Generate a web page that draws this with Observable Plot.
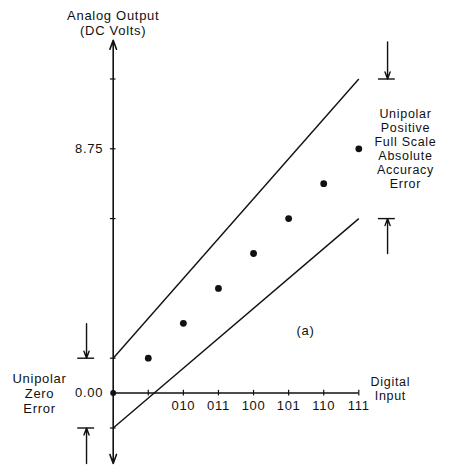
<!DOCTYPE html>
<html>
<head>
<meta charset="utf-8">
<script src="https://cdn.jsdelivr.net/npm/d3@7"></script>
<script src="https://cdn.jsdelivr.net/npm/@observablehq/plot@0.6"></script>
<style>
  html, body { margin: 0; padding: 0; background: #fff; }
  svg text { letter-spacing: 0.7px; }
</style>
</head>
<body>
<div id="chart"></div>
<script>
// Digital input codes (0..7) and ideal unipolar outputs (DC volts)
const codes = [1, 2, 3, 4, 5, 6, 7];
const outputs = [1.25, 2.5, 3.75, 5.0, 6.25, 7.5, 8.75];
const tickCodes = [2, 3, 4, 5, 6, 7];
const tickLabels = ["010", "011", "100", "101", "110", "111"];
// Error envelope lines (code, volts)
const upperCodes = [0, 7];
const upperVolts = [1.25, 11.25];
const lowerCodes = [0, 7];
const lowerVolts = [-1.25, 6.25];
// marked levels on the output axis
const yTickValues = [-1.25, 1.25, 6.25, 8.75, 11.25];
const yLabelValues = [0, 8.75];
const yLabelTexts = ["0.00", "8.75"];

const points = codes.map((c, i) => ({code: c, v: outputs[i]}));
const xLabels = tickCodes.map((c, i) => ({code: c, label: tickLabels[i]}));
const yLabels = yLabelValues.map((v, i) => ({v, label: yLabelTexts[i]}));
const bounds = [
  {x1: upperCodes[0], y1: upperVolts[0], x2: upperCodes[1], y2: upperVolts[1]},
  {x1: lowerCodes[0], y1: lowerVolts[0], x2: lowerCodes[1], y2: lowerVolts[1]}
];

const ink = "#111";
const fs = 13;
const fsTight = 12.5;

const chart = Plot.plot({
  width: 450,
  height: 465,
  marginTop: 0, marginBottom: 0, marginLeft: 0, marginRight: 0,
  x: {domain: [0, 7], range: [112.7, 358.3], axis: null},
  y: {domain: [0, 8.75], range: [392.6, 148.3], axis: null},
  style: {fontFamily: "'Liberation Sans', Arial, sans-serif", fontSize: "13px", background: "#fff", color: ink},
  marks: [
    // vertical (output) axis with arrows both ways
    Plot.arrow([{y1: 0, y2: 12.64}, {y1: 0, y2: -2.52}], {
      x1: 0, x2: 0, y1: "y1", y2: "y2", stroke: ink, strokeWidth: 1.6, headLength: 9, headAngle: 40
    }),
    // horizontal (digital input) axis
    Plot.ruleY([0], {x1: 0, x2: 7, stroke: ink, strokeWidth: 1.5}),
    Plot.ruleX(codes, {x: d => d, y1: -0.1, y2: 0.1, stroke: ink, strokeWidth: 1.2}),
    Plot.ruleY(yTickValues, {y: d => d, x1: -0.08, x2: 0.08, stroke: ink, strokeWidth: 1.2}),
    Plot.dot([{code: 0, v: 0}], {x: "code", y: "v", r: 3, fill: ink}),
    // envelope lines
    Plot.link(bounds, {x1: "x1", y1: "y1", x2: "x2", y2: "y2", stroke: ink, strokeWidth: 1.4}),
    // output points
    Plot.dot(points, {x: "code", y: "v", r: 3.4, fill: ink}),
    // axis labels
    Plot.text(xLabels, {x: "code", y: 0, dy: 13, text: "label", fontSize: fs, fill: ink}),
    Plot.text(yLabels, {x: 0, y: "v", dx: -10, text: "label", textAnchor: "end", fontSize: fs, fill: ink}),
    Plot.text(["Analog Output\n(DC Volts)"], {x: 0, y: 13.27, text: d => d, fontSize: fs, lineHeight: 15 / fs, fill: ink}),
    Plot.text(["Digital\nInput"], {x: 7.9, y: 0.15, text: d => d, fontSize: fsTight, lineHeight: 14 / fsTight, fill: ink}),
    Plot.text(["(a)"], {x: 5.48, y: 2.24, text: d => d, fontSize: fs, fill: ink}),
    // zero error annotation (left)
    Plot.text(["Unipolar\nZero\nError"], {x: -2.1, y: 0, text: d => d, fontSize: fs, lineHeight: 15 / fs, fill: ink}),
    Plot.arrow([{y1: 2.49, y2: 1.25}, {y1: -2.52, y2: -1.25}], {
      x1: -0.76, x2: -0.76, y1: "y1", y2: "y2", stroke: ink, strokeWidth: 1.4, headLength: 8, headAngle: 40
    }),
    Plot.ruleY([1.25, -1.25], {y: d => d, x1: -1.01, x2: -0.53, stroke: ink, strokeWidth: 1.4}),
    // full scale error annotation (right)
    Plot.text(["Unipolar\nPositive\nFull Scale\nAbsolute\nAccuracy\nError"], {
      x: 8.33, y: 8.76, text: d => d, fontSize: fsTight, lineHeight: 14 / fsTight, fill: ink
    }),
    Plot.arrow([{y1: 12.58, y2: 11.25}, {y1: 5.0, y2: 6.25}], {
      x1: 7.82, x2: 7.82, y1: "y1", y2: "y2", stroke: ink, strokeWidth: 1.4, headLength: 8, headAngle: 40
    }),
    Plot.ruleY([11.25, 6.25], {y: d => d, x1: 7.56, x2: 8.04, stroke: ink, strokeWidth: 1.4})
  ]
});
document.getElementById("chart").appendChild(chart);
</script>
</body>
</html>
